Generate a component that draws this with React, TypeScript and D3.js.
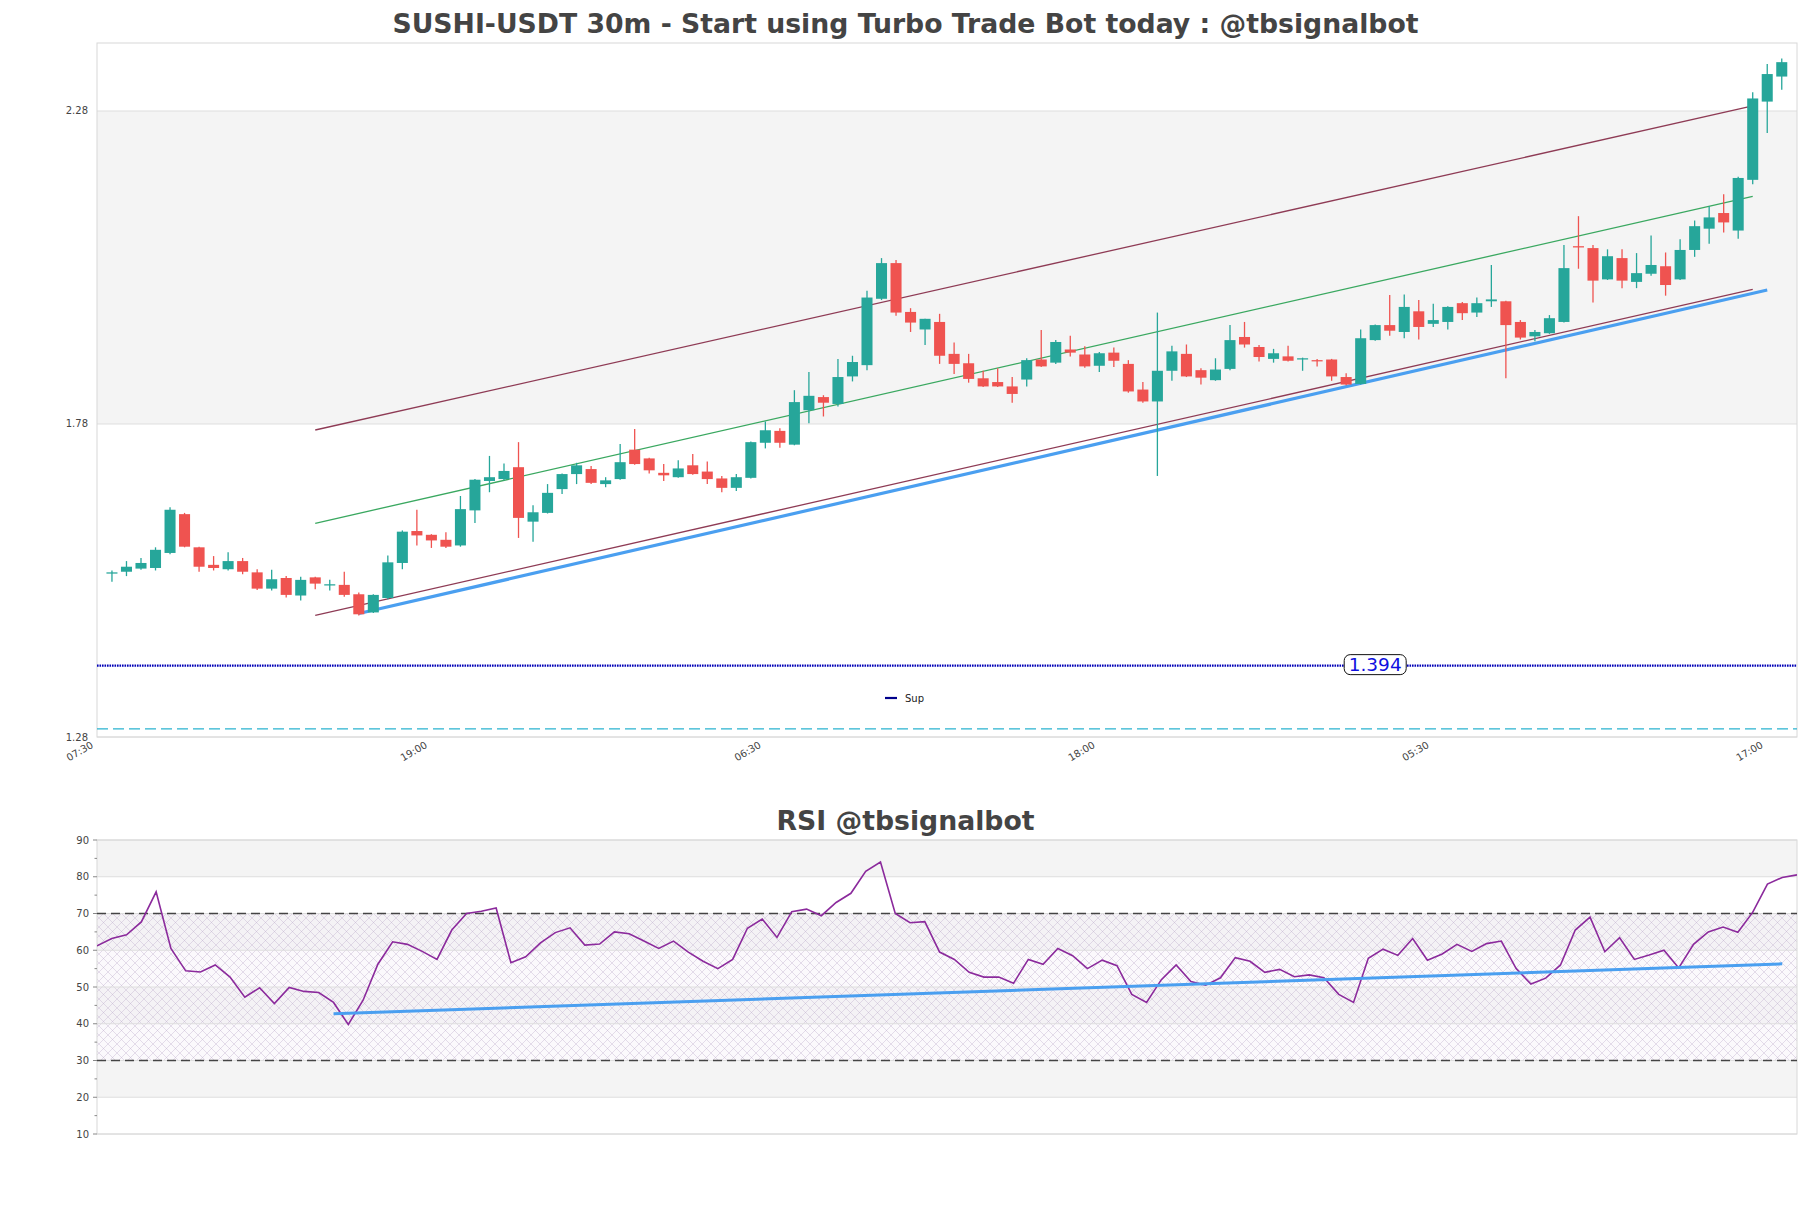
import React from 'react';
import * as d3 from 'd3';

// ---------- DATA ----------
const opens = [1.541,1.544,1.549,1.550,1.574,1.636,1.583,1.555,1.548,1.561,1.543,1.517,1.534,1.506,1.535,1.522,1.523,1.508,1.479,1.502,1.558,1.609,1.603,1.595,1.586,1.642,1.689,1.692,1.711,1.624,1.638,1.676,1.700,1.708,1.684,1.692,1.739,1.725,1.702,1.695,1.714,1.704,1.693,1.678,1.694,1.750,1.769,1.747,1.802,1.823,1.812,1.856,1.874,1.980,2.037,1.959,1.931,1.943,1.892,1.877,1.853,1.847,1.840,1.851,1.883,1.878,1.899,1.891,1.873,1.894,1.876,1.835,1.816,1.865,1.892,1.866,1.850,1.868,1.919,1.903,1.884,1.888,1.883,1.882,1.883,1.855,1.844,1.914,1.938,1.927,1.960,1.940,1.943,1.973,1.958,1.976,1.976,1.943,1.920,1.925,1.943,2.064,2.061,2.011,2.045,2.007,2.020,2.032,2.011,2.058,2.092,2.117,2.089,2.170,2.295,2.335];
const highs = [1.546,1.561,1.566,1.583,1.647,1.638,1.584,1.569,1.575,1.566,1.548,1.547,1.537,1.536,1.536,1.531,1.544,1.511,1.508,1.570,1.610,1.643,1.604,1.607,1.665,1.692,1.729,1.717,1.751,1.650,1.684,1.701,1.718,1.713,1.695,1.748,1.772,1.726,1.716,1.722,1.732,1.720,1.697,1.700,1.752,1.784,1.773,1.834,1.863,1.826,1.884,1.889,1.993,2.045,2.042,1.965,1.948,1.956,1.910,1.892,1.865,1.869,1.855,1.885,1.930,1.914,1.921,1.904,1.895,1.902,1.882,1.847,1.958,1.905,1.907,1.869,1.885,1.938,1.943,1.906,1.900,1.905,1.886,1.884,1.884,1.861,1.931,1.939,1.986,1.987,1.978,1.972,1.968,1.975,1.982,2.034,1.977,1.946,1.930,1.954,2.066,2.112,2.066,2.059,2.059,2.053,2.081,2.054,2.075,2.105,2.128,2.147,2.175,2.310,2.355,2.364];
const lows = [1.528,1.537,1.547,1.546,1.572,1.583,1.544,1.546,1.546,1.540,1.515,1.514,1.503,1.498,1.516,1.514,1.504,1.474,1.478,1.500,1.548,1.586,1.582,1.582,1.584,1.622,1.671,1.690,1.598,1.592,1.637,1.668,1.684,1.684,1.679,1.691,1.715,1.701,1.689,1.694,1.699,1.684,1.671,1.673,1.693,1.741,1.742,1.746,1.781,1.792,1.808,1.848,1.866,1.978,1.953,1.927,1.906,1.876,1.860,1.846,1.839,1.839,1.814,1.840,1.871,1.876,1.888,1.870,1.863,1.871,1.830,1.814,1.697,1.849,1.855,1.843,1.849,1.866,1.902,1.880,1.878,1.880,1.865,1.872,1.849,1.842,1.843,1.913,1.921,1.917,1.915,1.935,1.931,1.946,1.951,1.967,1.853,1.915,1.912,1.924,1.942,2.028,1.974,2.010,1.997,1.997,2.017,1.985,2.010,2.047,2.068,2.086,2.076,2.163,2.245,2.314];
const closes = [1.543,1.552,1.558,1.579,1.643,1.584,1.552,1.550,1.561,1.544,1.517,1.532,1.507,1.531,1.525,1.524,1.507,1.476,1.507,1.559,1.608,1.602,1.594,1.584,1.644,1.691,1.695,1.705,1.630,1.639,1.670,1.700,1.714,1.686,1.690,1.719,1.716,1.706,1.698,1.709,1.700,1.692,1.678,1.695,1.751,1.770,1.750,1.815,1.825,1.814,1.855,1.879,1.982,2.037,1.958,1.942,1.948,1.889,1.876,1.852,1.840,1.840,1.828,1.882,1.872,1.911,1.894,1.872,1.893,1.881,1.832,1.816,1.865,1.896,1.856,1.854,1.867,1.914,1.907,1.887,1.893,1.881,1.885,1.880,1.856,1.843,1.917,1.938,1.929,1.967,1.935,1.946,1.967,1.957,1.973,1.979,1.938,1.918,1.927,1.949,2.029,2.062,2.009,2.048,2.009,2.021,2.034,2.002,2.058,2.096,2.110,2.102,2.173,2.300,2.339,2.358];

const rsiValues = [61.2,63.2,64.2,67.7,75.9,60.5,54.4,54.1,56.0,52.7,47.2,49.8,45.5,49.9,48.8,48.5,45.8,39.8,46.4,56.2,62.3,61.6,59.7,57.5,65.5,70.0,70.6,71.5,56.6,58.2,62.0,64.8,66.1,61.4,61.7,65.0,64.5,62.5,60.5,62.5,59.5,57.0,55.0,57.5,66.0,68.5,63.5,70.5,71.2,69.4,73.0,75.5,81.5,84.0,70.0,67.5,67.8,59.5,57.5,54.0,52.7,52.7,51.0,57.5,56.2,60.5,58.5,55.0,57.3,55.8,48.0,45.8,52.0,56.0,51.5,50.5,52.5,58.0,57.0,54.0,54.8,52.8,53.3,52.5,48.0,45.8,57.8,60.3,58.6,63.2,57.3,59.0,61.6,59.7,61.8,62.5,55.0,50.8,52.4,56.0,65.5,69.0,59.6,63.4,57.5,58.7,60.0,55.2,61.6,65.0,66.3,64.9,70.3,78.0,79.8,80.5];

const xTickIndex = [0, 23, 46, 69, 92, 115];
const xTickLabels = ['07:30', '19:00', '06:30', '18:00', '05:30', '17:00'];
const priceTicks = [1.28, 1.78, 2.28];
const rsiTicks = [10, 20, 30, 40, 50, 60, 70, 80, 90];
const rsiMinorTicks = [15, 25, 35, 45, 55, 65, 75, 85];

const supportLevel = 1.394;
const supportLabelIndex = 87;
const lowerLevel = 1.293;
const upperChannel = [{ i: 14, v: 1.7704 }, { i: 113, v: 2.288 }];
const middleChannel = [{ i: 14, v: 1.6214 }, { i: 113, v: 2.1437 }];
const lowerChannel = [{ i: 14, v: 1.4744 }, { i: 113, v: 1.9952 }];
const supportTrend = [{ i: 17, v: 1.4773 }, { i: 114, v: 1.994 }];
const rsiTrend = [{ i: 16, v: 42.7 }, { i: 114, v: 56.3 }];
const rsiOverbought = 70;
const rsiOversold = 30;

const mainTitle = 'SUSHI-USDT 30m - Start using Turbo Trade Bot today : @tbsignalbot';
const rsiTitle = 'RSI @tbsignalbot';

// ---------- STYLE ----------
const UP = '#26a69a';
const DOWN = '#ef5350';
const BAND = '#f4f4f4';
const GRID = '#dedede';
const FONT = "'DejaVu Sans', sans-serif";

export default function App() {
  const W = 1811, H = 1208;
  const L = 97, R = 1797, T = 43, B = 737;
  const x = d3.scaleLinear().domain([-1.03, 116.05]).range([L, R]);
  const y = d3.scaleLinear().domain([1.28, 2.3886]).range([B, T]);
  const step = x(1) - x(0);
  const bodyW = step * 0.76;

  const rT = 840, rB = 1134;
  const rx = d3.scaleLinear().domain([0, 115]).range([L, R]);
  const ry = d3.scaleLinear().domain([10, 90]).range([rB, rT]);

  const line2 = (pts: { i: number; v: number }[], xs: any, ys: any) =>
    d3.line<{ i: number; v: number }>().x(d => xs(d.i)).y(d => ys(d.v))(pts) || '';

  const rsiPath = d3.line<number>().x((_, i) => rx(i)).y(d => ry(d))(rsiValues) || '';

  const priceBands = [] as { y0: number; y1: number; grey: boolean }[];
  const bandEdges = [...priceTicks, 2.3886];
  for (let k = 0; k < bandEdges.length - 1; k++) {
    priceBands.push({ y0: y(bandEdges[k + 1]), y1: y(bandEdges[k]), grey: k % 2 === 1 });
  }
  const rsiBands = [] as { y0: number; y1: number; grey: boolean }[];
  for (let k = 0; k < rsiTicks.length - 1; k++) {
    rsiBands.push({ y0: ry(rsiTicks[k + 1]), y1: ry(rsiTicks[k]), grey: k % 2 === 1 });
  }

  const supY = y(supportLevel);
  const labX = x(supportLabelIndex);

  return (
    <svg width={W} height={H} style={{ position: 'absolute', left: 0, top: 0, background: '#fff' }} fontFamily={FONT}>
      <defs>
        <clipPath id="mainClip"><rect x={L} y={T} width={R - L} height={B - T} /></clipPath>
        <clipPath id="rsiClip"><rect x={L} y={rT} width={R - L} height={rB - rT} /></clipPath>
        <pattern id="hatch" width="9" height="9" patternUnits="userSpaceOnUse">
          <path d="M0,0 L9,9 M9,0 L0,9" stroke="#b9a6c6" strokeWidth="0.6" strokeOpacity="0.6" />
        </pattern>
      </defs>
      <rect x={0} y={0} width={W} height={H} fill="#fff" />

      {/* Titles */}
      <text x={W / 2} y={33} textAnchor="middle" fontSize={26.7} fontWeight="bold" fill="#444">{mainTitle}</text>
      <text x={W / 2} y={830} textAnchor="middle" fontSize={26.7} fontWeight="bold" fill="#444">{rsiTitle}</text>

      {/* ---------- MAIN PANEL ---------- */}
      {priceBands.map((b, k) => (
        <rect key={'pb' + k} x={L} y={b.y0} width={R - L} height={b.y1 - b.y0} fill={b.grey ? BAND : '#fff'} />
      ))}
      {priceTicks.map(t => (
        <line key={'pg' + t} x1={L} x2={R} y1={y(t)} y2={y(t)} stroke={GRID} strokeWidth={1} />
      ))}
      <rect x={L} y={T} width={R - L} height={B - T} fill="none" stroke="#d8d8d8" strokeWidth={1} />

      <g clipPath="url(#mainClip)">
        {/* horizontal levels */}
        <line x1={L} x2={R} y1={y(lowerLevel)} y2={y(lowerLevel)} stroke="#2ab3cf" strokeWidth={1.3} strokeDasharray="11,5" />
        <line x1={L} x2={R} y1={supY} y2={supY} stroke="#0000b8" strokeWidth={2.4} strokeDasharray="1.6,0.9" />

        {/* channel lines */}
        <path d={line2(upperChannel, x, y)} stroke="#8e3b55" strokeWidth={1.3} fill="none" />
        <path d={line2(middleChannel, x, y)} stroke="#3aa860" strokeWidth={1.3} fill="none" />
        <path d={line2(lowerChannel, x, y)} stroke="#8e3b55" strokeWidth={1.3} fill="none" />
        <path d={line2(supportTrend, x, y)} stroke="#4a9ff0" strokeWidth={3.2} fill="none" />

        {/* candles */}
        {opens.map((o, i) => {
          const c = closes[i];
          const up = c >= o;
          const col = up ? UP : DOWN;
          const cx = x(i);
          const yTop = y(Math.max(o, c));
          const yBot = y(Math.min(o, c));
          return (
            <g key={'c' + i}>
              <line x1={cx} x2={cx} y1={y(highs[i])} y2={y(lows[i])} stroke={col} strokeWidth={1.3} />
              <rect x={cx - bodyW / 2} y={yTop} width={bodyW} height={Math.max(1.2, yBot - yTop)} fill={col} />
            </g>
          );
        })}
      </g>

      {/* support label */}
      <rect x={labX - 31} y={supY - 11} width={62} height={20} rx={6} ry={6} fill="#fff" stroke="#111" strokeWidth={1} />
      <text x={labX} y={supY - 1} textAnchor="middle" dominantBaseline="central" fontSize={18.5} fill="#1010e0">{supportLevel.toFixed(3)}</text>

      {/* legend */}
      <line x1={885} x2={897} y1={698} y2={698} stroke="#00008b" strokeWidth={2.2} />
      <text x={905} y={698} dominantBaseline="central" fontSize={10} fill="#222">Sup</text>

      {/* price axis labels */}
      {priceTicks.map(t => (
        <text key={'pt' + t} x={88} y={y(t)} textAnchor="end" dominantBaseline="central" fontSize={10} fill="#444">{t.toFixed(2)}</text>
      ))}
      {/* x labels */}
      {xTickIndex.map((idx, k) => {
        const tx = x(idx) - 18;
        const ty = 747;
        return (
          <text key={'xt' + k} x={tx} y={ty} textAnchor="end" fontSize={10} fill="#444" transform={`rotate(-30 ${tx} ${ty})`}>{xTickLabels[k]}</text>
        );
      })}

      {/* ---------- RSI PANEL ---------- */}
      {rsiBands.map((b, k) => (
        <rect key={'rb' + k} x={L} y={b.y0} width={R - L} height={b.y1 - b.y0} fill={b.grey ? BAND : '#fff'} />
      ))}
      <rect x={L} y={ry(rsiOverbought)} width={R - L} height={ry(rsiOversold) - ry(rsiOverbought)} fill="#f3eef6" fillOpacity={0.35} />
      <rect x={L} y={ry(rsiOverbought)} width={R - L} height={ry(rsiOversold) - ry(rsiOverbought)} fill="url(#hatch)" />
      {rsiTicks.map(t => (
        <line key={'rg' + t} x1={L} x2={R} y1={ry(t)} y2={ry(t)} stroke={GRID} strokeWidth={1} />
      ))}
      <rect x={L} y={rT} width={R - L} height={rB - rT} fill="none" stroke="#d8d8d8" strokeWidth={1} />
      {[rsiOverbought, rsiOversold].map(v => (
        <line key={'rl' + v} x1={L} x2={R} y1={ry(v)} y2={ry(v)} stroke="#444" strokeWidth={1.3} strokeDasharray="9,5" />
      ))}
      <g clipPath="url(#rsiClip)">
        <path d={rsiPath} stroke="#8b2a9c" strokeWidth={1.6} fill="none" />
        <path d={line2(rsiTrend, rx, ry)} stroke="#4a9ff0" strokeWidth={3} fill="none" />
      </g>
      {rsiTicks.map(t => (
        <g key={'rt' + t}>
          <line x1={L - 4} x2={L} y1={ry(t)} y2={ry(t)} stroke="#888" strokeWidth={1} />
          <text x={89} y={ry(t)} textAnchor="end" dominantBaseline="central" fontSize={10} fill="#444">{t}</text>
        </g>
      ))}
      {rsiMinorTicks.map(t => (
        <line key={'rm' + t} x1={L - 2.5} x2={L} y1={ry(t)} y2={ry(t)} stroke="#888" strokeWidth={1} />
      ))}
    </svg>
  );
}
